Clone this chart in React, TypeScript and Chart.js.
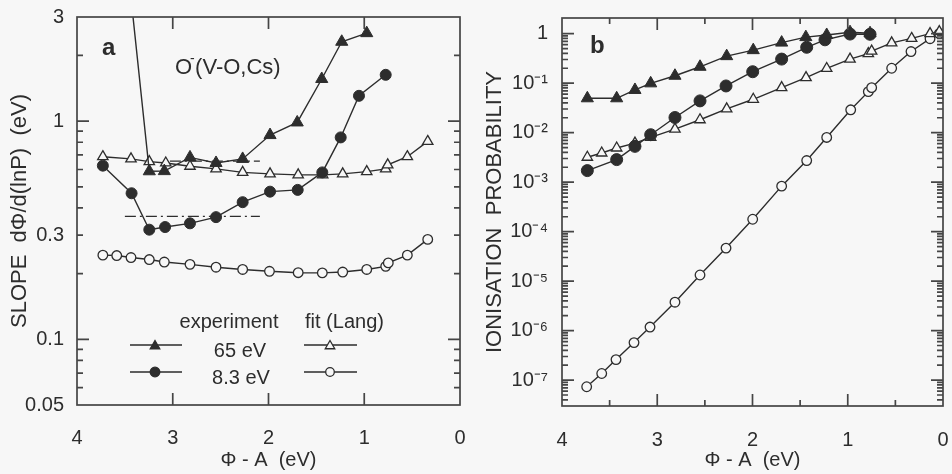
import React, { useEffect, useRef } from 'react';
import { Chart, registerables } from 'chart.js';

Chart.register(...registerables);

const FONT = "'Liberation Sans', Arial, Helvetica, sans-serif";
const INK = '#2d2d2d';
const AXIS = '#454545';
const BG = '#f7f7f7';

// ---------------- Panel a : SLOPE ----------------
const A_X_TICKS = [0, 1, 2, 3, 4];
const A_Y_TICKS = [0.05, 0.1, 0.3, 1, 3];
const A_X_MAJOR_MARKS = [1, 2, 3];
const A_Y_MAJOR_MARKS = [0.1, 1];
const A_Y_MINOR_MARKS = [0.06, 0.07, 0.08, 0.09, 0.2, 0.3, 0.4, 0.5, 0.6, 0.7, 0.8, 0.9, 2];

// experiment 65 eV (first point lies above the frame)
const A_EXP65_X = [3.445, 3.245, 3.088, 2.82, 2.548, 2.27, 1.984, 1.70, 1.444, 1.235, 0.974];
const A_EXP65_Y = [4.0, 0.589, 0.59, 0.682, 0.643, 0.671, 0.863, 0.986, 1.56, 2.31, 2.53];
// experiment 8.3 eV
const A_EXP83_X = [3.73, 3.43, 3.245, 3.08, 2.82, 2.548, 2.27, 1.984, 1.695, 1.438, 1.246, 1.055, 0.776];
const A_EXP83_Y = [0.625, 0.467, 0.318, 0.327, 0.34, 0.363, 0.425, 0.475, 0.484, 0.582, 0.842, 1.306, 1.63];
// fit (Lang) 65 eV
const A_FIT65_X = [3.73, 3.436, 3.245, 3.073, 2.82, 2.548, 2.27, 1.984, 1.69, 1.434, 1.225, 0.974, 0.776, 0.755, 0.55, 0.337];
const A_FIT65_Y = [0.687, 0.671, 0.652, 0.643, 0.621, 0.604, 0.582, 0.573, 0.567, 0.567, 0.573, 0.587, 0.604, 0.63, 0.687, 0.807];
// fit (Lang) 8.3 eV
const A_FIT83_X = [3.73, 3.585, 3.436, 3.245, 3.088, 2.82, 2.548, 2.27, 1.99, 1.69, 1.438, 1.225, 0.974, 0.776, 0.749, 0.55, 0.337];
const A_FIT83_Y = [0.243, 0.242, 0.237, 0.232, 0.226, 0.2206, 0.214, 0.209, 0.205, 0.202, 0.2015, 0.2034, 0.209, 0.216, 0.224, 0.243, 0.287];
// dash-dot guide lines
const A_DASH65_X = [3.03, 2.09];
const A_DASH65_Y = [0.655, 0.655];
const A_DASH83_X = [3.5, 2.09];
const A_DASH83_Y = [0.366, 0.366];

// ---------------- Panel b : IONISATION PROBABILITY ----------------
const B_X_MAJOR_MARKS = [1, 2, 3];
const B_X_MINOR_MARKS = [0.5, 1.5, 2.5, 3.5];
const B_Y_TICKS = [1e-7, 1e-6, 1e-5, 1e-4, 1e-3, 1e-2, 1e-1, 1];
const B_Y_LABELS = ['10⁻⁷', '10⁻⁶', '10⁻⁵', '10⁻⁴', '10⁻³', '10⁻²', '10⁻¹', '1'];
const B_MINOR_MULTS = [2, 3, 4, 5, 6, 7, 8, 9];

const B_EXP65_X = [3.734, 3.426, 3.234, 3.069, 2.814, 2.551, 2.271, 1.992, 1.694, 1.44, 1.221, 0.976, 0.766];
const B_EXP65_Y = [0.0494, 0.0494, 0.0728, 0.099, 0.141, 0.214, 0.351, 0.464, 0.659, 0.85, 0.94, 1.07, 1.02];
const B_EXP83_X = [3.734, 3.426, 3.234, 3.069, 2.814, 2.551, 2.278, 1.998, 1.694, 1.431, 1.239, 0.976, 0.766];
const B_EXP83_Y = [0.00171, 0.00285, 0.00528, 0.00908, 0.0202, 0.0438, 0.0877, 0.17, 0.306, 0.53, 0.75, 0.98, 0.97];
const B_FIT65_X = [3.734, 3.583, 3.426, 3.234, 3.069, 2.814, 2.551, 2.271, 1.992, 1.694, 1.438, 1.221, 0.976, 0.784, 0.749, 0.539, 0.329, 0.136, 0.039];
const B_FIT65_Y = [0.00318, 0.00388, 0.00489, 0.00615, 0.00802, 0.0118, 0.0182, 0.0303, 0.0472, 0.0811, 0.129, 0.198, 0.306, 0.396, 0.443, 0.65, 0.8, 1.0, 1.1];
const B_FIT83_X = [3.741, 3.583, 3.433, 3.244, 3.076, 2.814, 2.551, 2.278, 1.998, 1.694, 1.431, 1.221, 0.969, 0.784, 0.749, 0.539, 0.336, 0.136, 0.039];
const B_FIT83_Y = [7.34e-8, 1.36e-7, 2.6e-7, 5.73e-7, 1.18e-6, 3.75e-6, 1.33e-5, 4.65e-5, 1.78e-4, 8.3e-4, 2.73e-3, 8.0e-3, 0.0289, 0.0673, 0.081, 0.2, 0.435, 0.79, 1.0];

// ---------------- helpers ----------------
function series(xs: number[], ys: number[], style: string, filled: boolean, r: number) {
  return {
    data: xs.map((x, i) => ({ x, y: ys[i] })),
    showLine: true,
    borderColor: INK,
    borderWidth: 1.4,
    pointStyle: style,
    pointRadius: r,
    pointHoverRadius: r,
    pointBackgroundColor: filled ? INK : BG,
    pointBorderColor: INK,
    pointBorderWidth: filled ? 1 : 1.3,
    tension: 0,
  };
}

function dashLine(xs: number[], ys: number[]) {
  return {
    data: xs.map((x, i) => ({ x, y: ys[i] })),
    showLine: true,
    borderColor: INK,
    borderWidth: 1.3,
    borderDash: [11, 4, 2, 4],
    pointRadius: 0,
    pointHoverRadius: 0,
    tension: 0,
  };
}

function drawMarker(ctx: CanvasRenderingContext2D, style: string, x: number, y: number, r: number, filled: boolean) {
  ctx.beginPath();
  if (style === 'triangle') {
    for (let k = 0; k < 3; k++) {
      const a = (k * 2 * Math.PI) / 3;
      const px = x + Math.sin(a) * r;
      const py = y - Math.cos(a) * r;
      if (k === 0) ctx.moveTo(px, py);
      else ctx.lineTo(px, py);
    }
    ctx.closePath();
  } else {
    ctx.arc(x, y, r, 0, Math.PI * 2);
  }
  ctx.fillStyle = filled ? INK : BG;
  ctx.fill();
  ctx.strokeStyle = INK;
  ctx.lineWidth = 1.3;
  ctx.stroke();
}

function framePlugin(spec: { xMajor: number[]; xMinor: number[]; yMajor: number[]; yMinor: number[] }) {
  return {
    id: 'frameTicks',
    afterDraw(chart: any) {
      const { ctx, chartArea } = chart;
      const { left, right, top, bottom } = chartArea;
      const xs = chart.scales.x;
      const ys = chart.scales.y;
      const MAJ = 12;
      const MIN = 6;
      ctx.save();
      ctx.strokeStyle = AXIS;
      ctx.lineWidth = 1.7;
      ctx.strokeRect(left, top, right - left, bottom - top);
      ctx.beginPath();
      const xt = (v: number, len: number) => {
        const p = xs.getPixelForValue(v);
        if (p < left + 1 || p > right - 1) return;
        ctx.moveTo(p, bottom);
        ctx.lineTo(p, bottom - len);
        ctx.moveTo(p, top);
        ctx.lineTo(p, top + len);
      };
      const yt = (v: number, len: number) => {
        const p = ys.getPixelForValue(v);
        if (p < top + 1 || p > bottom - 1) return;
        ctx.moveTo(left, p);
        ctx.lineTo(left + len, p);
        ctx.moveTo(right, p);
        ctx.lineTo(right - len, p);
      };
      spec.xMajor.forEach((v) => xt(v, MAJ));
      spec.xMinor.forEach((v) => xt(v, MIN));
      spec.yMajor.forEach((v) => yt(v, MAJ));
      spec.yMinor.forEach((v) => yt(v, MIN));
      ctx.stroke();
      ctx.restore();
    },
  };
}

const annotateA = {
  id: 'annotateA',
  afterDraw(chart: any) {
    const ctx: CanvasRenderingContext2D = chart.ctx;
    ctx.save();
    ctx.fillStyle = INK;
    ctx.textBaseline = 'alphabetic';
    ctx.textAlign = 'left';
    ctx.font = `bold 24px ${FONT}`;
    ctx.fillText('a', 102, 55);

    // O⁻(V-O,Cs)
    ctx.font = `22px ${FONT}`;
    ctx.fillText('O', 175, 74);
    let x = 175 + ctx.measureText('O').width;
    ctx.font = `14px ${FONT}`;
    ctx.fillText('-', x - 2, 63);
    x += 3;
    ctx.font = `22px ${FONT}`;
    ctx.fillText('(V-O,Cs)', x, 74);

    // legend
    ctx.font = `20px ${FONT}`;
    ctx.textAlign = 'center';
    ctx.fillText('experiment', 229, 328);
    ctx.textAlign = 'left';
    ctx.fillText('fit (Lang)', 305, 328);
    ctx.textAlign = 'center';
    ctx.fillText('65 eV', 240, 357);
    ctx.fillText('8.3 eV', 241, 384);

    const rows = [
      { y: 345, style: 'triangle', r: 5.5, rO: 5.5 },
      { y: 372, style: 'circle', r: 4.8, rO: 4.3 },
    ];
    ctx.strokeStyle = INK;
    ctx.lineWidth = 1.3;
    rows.forEach((row) => {
      ctx.beginPath();
      ctx.moveTo(130, row.y);
      ctx.lineTo(182, row.y);
      ctx.moveTo(304, row.y);
      ctx.lineTo(357, row.y);
      ctx.stroke();
      drawMarker(ctx, row.style, 155, row.style === 'triangle' ? row.y + 1 : row.y, row.r, true);
      drawMarker(ctx, row.style, 330, row.style === 'triangle' ? row.y + 1 : row.y, row.rO, false);
    });
    ctx.restore();
  },
};

const annotateB = {
  id: 'annotateB',
  afterDraw(chart: any) {
    const ctx: CanvasRenderingContext2D = chart.ctx;
    ctx.save();
    ctx.fillStyle = INK;
    ctx.textBaseline = 'alphabetic';
    ctx.textAlign = 'left';
    ctx.font = `bold 24px ${FONT}`;
    ctx.fillText('b', 110, 53);
    ctx.restore();
  },
};

const tickFont = { family: FONT, size: 20 };
const titleFont = { family: FONT, size: 20 };

function xScale(height: number, pad: number) {
  return {
    type: 'linear',
    min: 0,
    max: 4,
    reverse: true,
    position: 'bottom',
    afterBuildTicks: (s: any) => {
      s.ticks = A_X_TICKS.map((v) => ({ value: v }));
    },
    afterFit: (s: any) => {
      s.height = height;
    },
    grid: { display: false },
    border: { display: false },
    ticks: {
      font: tickFont,
      color: INK,
      padding: pad,
      maxRotation: 0,
      autoSkip: false,
      callback: (v: any) => String(v),
    },
    title: {
      display: true,
      text: 'Φ - A  (eV)',
      font: titleFont,
      color: INK,
      padding: { top: 0, bottom: 2 },
    },
  };
}

function configA(): any {
  return {
    type: 'scatter',
    data: {
      datasets: [
        series(A_EXP65_X, A_EXP65_Y, 'triangle', true, 7),
        series(A_EXP83_X, A_EXP83_Y, 'circle', true, 5.5),
        series(A_FIT65_X, A_FIT65_Y, 'triangle', false, 6),
        series(A_FIT83_X, A_FIT83_Y, 'circle', false, 4.8),
        dashLine(A_DASH65_X, A_DASH65_Y),
        dashLine(A_DASH83_X, A_DASH83_Y),
      ],
    },
    options: {
      responsive: false,
      animation: false,
      devicePixelRatio: 1,
      events: [],
      layout: { padding: { top: 16, right: 20, left: 0, bottom: 0 } },
      plugins: { legend: { display: false }, tooltip: { enabled: false } },
      scales: {
        x: xScale(69, 13),
        y: {
          type: 'logarithmic',
          min: 0.05,
          max: 3,
          afterBuildTicks: (s: any) => {
            s.ticks = A_Y_TICKS.map((v) => ({ value: v }));
          },
          afterFit: (s: any) => {
            s.width = 77;
          },
          grid: { display: false },
          border: { display: false },
          ticks: {
            font: tickFont,
            color: INK,
            padding: 5,
            autoSkip: false,
            callback: (v: any) => String(v),
          },
          title: {
            display: true,
            text: 'SLOPE  dΦ/d(lnP)  (eV)',
            font: { family: FONT, size: 22 },
            color: INK,
            padding: { top: 7, bottom: 0 },
          },
        },
      },
    },
    plugins: [
      framePlugin({ xMajor: A_X_MAJOR_MARKS, xMinor: [], yMajor: A_Y_MAJOR_MARKS, yMinor: A_Y_MINOR_MARKS }),
      annotateA,
    ],
  };
}

function configB(): any {
  const minor: number[] = [];
  [1e-8, ...B_Y_TICKS].forEach((d) => B_MINOR_MULTS.forEach((m) => minor.push(d * m)));
  return {
    type: 'scatter',
    data: {
      datasets: [
        series(B_EXP65_X, B_EXP65_Y, 'triangle', true, 7),
        series(B_EXP83_X, B_EXP83_Y, 'circle', true, 6),
        series(B_FIT65_X, B_FIT65_Y, 'triangle', false, 6),
        series(B_FIT83_X, B_FIT83_Y, 'circle', false, 4.8),
      ],
    },
    options: {
      responsive: false,
      animation: false,
      devicePixelRatio: 1,
      events: [],
      layout: { padding: { top: 16, right: 9, left: 0, bottom: 0 } },
      plugins: { legend: { display: false }, tooltip: { enabled: false } },
      scales: {
        x: xScale(68, 14),
        y: {
          type: 'logarithmic',
          min: 3e-8,
          max: 2.07,
          afterBuildTicks: (s: any) => {
            s.ticks = B_Y_TICKS.map((v) => ({ value: v }));
          },
          afterFit: (s: any) => {
            s.width = 82;
          },
          grid: { display: false },
          border: { display: false },
          ticks: {
            font: tickFont,
            color: INK,
            padding: 6,
            autoSkip: false,
            callback: (v: any) => {
              const i = B_Y_TICKS.findIndex((t) => Math.abs(Math.log10(t) - Math.log10(v)) < 1e-6);
              return i >= 0 ? B_Y_LABELS[i] : '';
            },
          },
          title: {
            display: true,
            text: 'IONISATION  PROBABILITY',
            font: { family: FONT, size: 22 },
            color: INK,
            padding: { top: 2, bottom: 0 },
          },
        },
      },
    },
    plugins: [
      framePlugin({ xMajor: B_X_MAJOR_MARKS, xMinor: B_X_MINOR_MARKS, yMajor: B_Y_TICKS, yMinor: minor }),
      annotateB,
    ],
  };
}

export default function App() {
  const aRef = useRef<HTMLCanvasElement>(null);
  const bRef = useRef<HTMLCanvasElement>(null);
  useEffect(() => {
    const ca = new Chart(aRef.current as HTMLCanvasElement, configA());
    const cb = new Chart(bRef.current as HTMLCanvasElement, configB());
    return () => {
      ca.destroy();
      cb.destroy();
    };
  }, []);
  return (
    <div style={{ position: 'absolute', left: 0, top: 0, width: 952, height: 474, background: BG, overflow: 'hidden' }}>
      <canvas ref={aRef} width={480} height={474} style={{ position: 'absolute', left: 0, top: 0, width: 480, height: 474 }} />
      <canvas ref={bRef} width={472} height={474} style={{ position: 'absolute', left: 480, top: 0, width: 472, height: 474 }} />
    </div>
  );
}
